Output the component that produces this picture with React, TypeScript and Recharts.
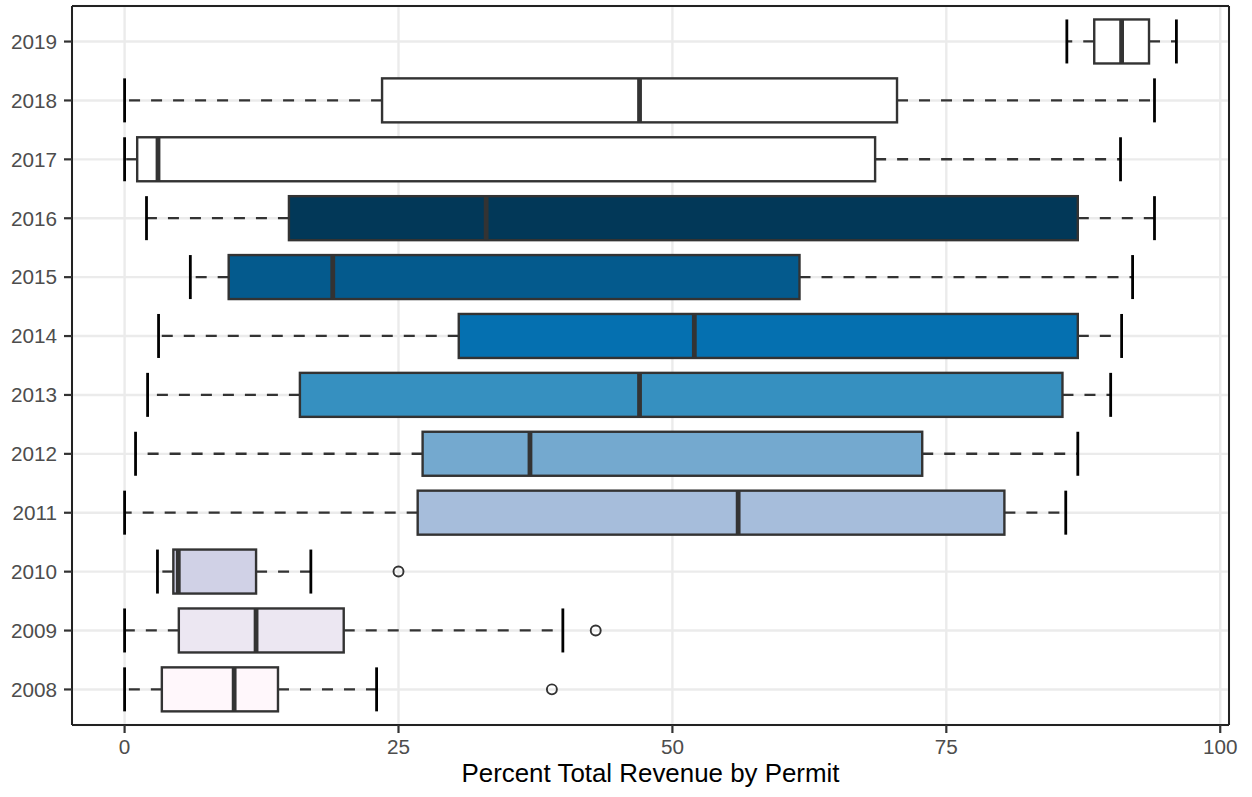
import React from 'react';
import { ComposedChart, Bar, XAxis, YAxis, CartesianGrid } from 'recharts';

const years = ['2008', '2009', '2010', '2011', '2012', '2013', '2014', '2015', '2016', '2017', '2018', '2019'];
const mins = [0, 0, 3.0, 0, 1.0, 2.1, 3.1, 6.0, 2.0, 0, 0, 86.0];
const q1s = [3.4, 4.95, 4.45, 26.75, 27.2, 16.0, 30.5, 9.5, 15.0, 1.15, 23.5, 88.5];
const medians = [10.0, 12.0, 4.9, 56.0, 37.0, 47.0, 52.0, 19.0, 33.0, 3.05, 47.0, 91.0];
const q3s = [14.0, 20.0, 12.0, 80.3, 72.8, 85.6, 87.0, 61.6, 87.0, 68.5, 70.5, 93.5];
const maxs = [23.0, 40.0, 17.0, 85.9, 87.0, 90.0, 91.0, 92.0, 94.0, 90.9, 94.0, 96.0];
const outliers: number[][] = [[39.0], [43.0], [25.0], [], [], [], [], [], [], [], [], []];
const fills = ['#FFF7FB', '#ECE7F2', '#D0D1E6', '#A6BDDB', '#74A9CF', '#3690C0', '#0570B0', '#045A8D', '#023858', '#FFFFFF', '#FFFFFF', '#FFFFFF'];

const majorTicks = [0, 25, 50, 75, 100];
const minorTicks = [12.5, 37.5, 62.5, 87.5];
const xDomain = [-4.8, 100.8];

const data = years.map((year, i) => ({
  year,
  min: mins[i],
  q1: q1s[i],
  median: medians[i],
  q3: q3s[i],
  max: maxs[i],
  outliers: outliers[i],
  fill: fills[i],
}));

const FONT = '"Liberation Sans", Arial, Helvetica, sans-serif';
const DARK = '#333333';

const BoxShape = (props: any) => {
  const { x, y, width, height, payload } = props;
  const d = payload;
  if (!d) return null;
  const px = (v: number) => x + ((v - d.min) / (d.max - d.min)) * width;
  const cy = y + height / 2;
  const bx1 = px(d.q1);
  const bx2 = px(d.q3);
  return (
    <g>
      <line x1={bx1} x2={px(d.min)} y1={cy} y2={cy} stroke={DARK} strokeWidth={2.3} strokeDasharray="11 11" />
      <line x1={bx2} x2={px(d.max)} y1={cy} y2={cy} stroke={DARK} strokeWidth={2.3} strokeDasharray="11 11" />
      <line x1={px(d.min)} x2={px(d.min)} y1={y} y2={y + height} stroke="#000000" strokeWidth={2.8} />
      <line x1={px(d.max)} x2={px(d.max)} y1={y} y2={y + height} stroke="#000000" strokeWidth={2.8} />
      <rect x={bx1} y={y} width={bx2 - bx1} height={height} fill={d.fill} stroke={DARK} strokeWidth={2.4} />
      <line x1={px(d.median)} x2={px(d.median)} y1={y} y2={y + height} stroke={DARK} strokeWidth={4.8} />
      {d.outliers.map((o: number, k: number) => (
        <circle key={k} cx={px(o)} cy={cy} r={5} fill="none" stroke={DARK} strokeWidth={1.9} />
      ))}
    </g>
  );
};

const YTick = (props: any) => {
  const { x, y, payload } = props;
  return (
    <text x={x} y={y} dy="0.355em" textAnchor="end" fill="#4D4D4D" fontSize={20.7} fontFamily={FONT}>
      {payload.value}
    </text>
  );
};

export default function App() {
  return (
    <div style={{ position: 'absolute', left: 0, top: 0, width: 1252, height: 797, background: '#fff' }}>
      <ComposedChart
        width={1252}
        height={797}
        data={data}
        layout="vertical"
        margin={{ top: 5, right: 22, bottom: 0, left: 0 }}
        barCategoryGap="12.5%"
      >
        <CartesianGrid xAxisId="top" yAxisId="left" horizontal={false} stroke="#EBEBEB" strokeWidth={1.5} />
        <CartesianGrid xAxisId="bottom" yAxisId="left" stroke="#EBEBEB" strokeWidth={2.4} />
        <XAxis
          xAxisId="bottom"
          type="number"
          domain={xDomain}
          allowDataOverflow
          ticks={majorTicks}
          interval={0}
          height={72}
          tickSize={8}
          tickMargin={6}
          axisLine={{ stroke: '#222222', strokeWidth: 2 }}
          tickLine={{ stroke: DARK, strokeWidth: 2.2 }}
          tick={{ fill: '#4D4D4D', fontSize: 20.7, fontFamily: FONT }}
          label={{
            value: 'Percent Total Revenue by Permit',
            position: 'insideBottom',
            offset: 15,
            fill: '#000000',
            fontSize: 25.9,
            fontFamily: FONT,
          }}
        />
        <XAxis
          xAxisId="top"
          orientation="top"
          type="number"
          domain={xDomain}
          allowDataOverflow
          ticks={minorTicks}
          interval={0}
          height={1}
          tick={false}
          tickLine={false}
          axisLine={{ stroke: '#222222', strokeWidth: 2 }}
        />
        <YAxis
          yAxisId="left"
          type="category"
          dataKey="year"
          reversed
          width={72}
          padding={{ top: 6.1, bottom: 6.1 }}
          tickSize={8}
          tickMargin={7}
          axisLine={{ stroke: '#222222', strokeWidth: 2 }}
          tickLine={{ stroke: DARK, strokeWidth: 2.2 }}
          tick={YTick}
        />
        <YAxis
          yAxisId="right"
          orientation="right"
          type="category"
          dataKey="year"
          reversed
          width={1}
          tick={false}
          tickLine={false}
          axisLine={{ stroke: '#222222', strokeWidth: 2 }}
        />
        <Bar
          xAxisId="bottom"
          yAxisId="left"
          dataKey={(d: any) => [d.min, d.max]}
          shape={BoxShape}
          isAnimationActive={false}
        />
      </ComposedChart>
    </div>
  );
}
